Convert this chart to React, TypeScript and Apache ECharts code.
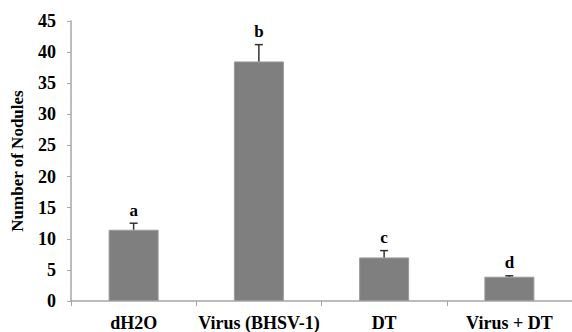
import React, { useEffect, useRef } from "react";
import * as echarts from "echarts";

const categories = ["dH2O", "Virus (BHSV-1)", "DT", "Virus + DT"];
const means = [11.45, 38.5, 7.0, 3.9];
const errors = [1.05, 2.7, 1.1, 0.15];
const letters = ["a", "b", "c", "d"];
const yTicks = { min: 0, max: 45, interval: 5 };

const FONT = "Liberation Serif";

export default function App() {
  const ref = useRef<HTMLDivElement>(null);
  useEffect(() => {
    if (!ref.current) return;
    const chart = echarts.init(ref.current, null, { renderer: "svg" });
    const errData = categories.map((_, i) => [i, means[i], means[i] + errors[i], letters[i]]);
    chart.setOption({
      animation: false,
      backgroundColor: "#ffffff",
      textStyle: { fontFamily: FONT, fontWeight: "bold", color: "#000" },
      grid: { left: 71, right: -8, top: 21, bottom: 29, containLabel: false },
      xAxis: {
        type: "category",
        data: categories,
        axisLine: { lineStyle: { color: "#a6a6a6", width: 1.5 } },
        axisTick: { show: true, alignWithLabel: false, length: 5, lineStyle: { color: "#a6a6a6" } },
        axisLabel: {
          color: "#000",
          fontFamily: FONT,
          fontWeight: "bold",
          fontSize: 18,
          margin: 13,
          interval: 0,
        },
      },
      yAxis: {
        type: "value",
        min: yTicks.min,
        max: yTicks.max,
        interval: yTicks.interval,
        name: "Number of Nodules",
        nameLocation: "middle",
        nameRotate: 90,
        nameGap: 45,
        nameTextStyle: { color: "#000", fontFamily: FONT, fontWeight: "bold", fontSize: 17 },
        axisLine: { show: true, lineStyle: { color: "#a6a6a6", width: 1.5 } },
        axisTick: { show: true, length: 4, lineStyle: { color: "#a6a6a6" } },
        splitLine: { show: false },
        axisLabel: {
          color: "#000",
          fontFamily: FONT,
          fontWeight: "bold",
          fontSize: 18,
          margin: 15,
        },
      },
      series: [
        {
          type: "bar",
          data: means,
          barWidth: 50,
          itemStyle: { color: "#7f7f7f", borderColor: "#9a9a9a", borderWidth: 1 },
        },
        {
          type: "custom",
          data: errData,
          z: 10,
          renderItem: (params: any, api: any) => {
            const x = api.value(0);
            const lo = api.coord([x, api.value(1)]);
            const hi = api.coord([x, api.value(2)]);
            const letter = letters[params.dataIndex];
            return {
              type: "group",
              children: [
                {
                  type: "line",
                  shape: { x1: lo[0], y1: lo[1], x2: hi[0], y2: hi[1] },
                  style: { stroke: "#333", lineWidth: 1.5 },
                },
                {
                  type: "line",
                  shape: { x1: hi[0] - 4, y1: hi[1], x2: hi[0] + 4, y2: hi[1] },
                  style: { stroke: "#333", lineWidth: 1.5 },
                },
                {
                  type: "text",
                  x: hi[0],
                  y: hi[1] - 13,
                  style: {
                    text: letter,
                    fill: "#000",
                    fontFamily: FONT,
                    fontWeight: "bold",
                    fontSize: 17,
                    align: "center",
                    verticalAlign: "middle",
                  },
                },
              ],
            };
          },
        },
      ],
    });
    return () => chart.dispose();
  }, []);
  return <div ref={ref} style={{ width: 572, height: 332, position: "absolute", left: 0, top: 0 }} />;
}
